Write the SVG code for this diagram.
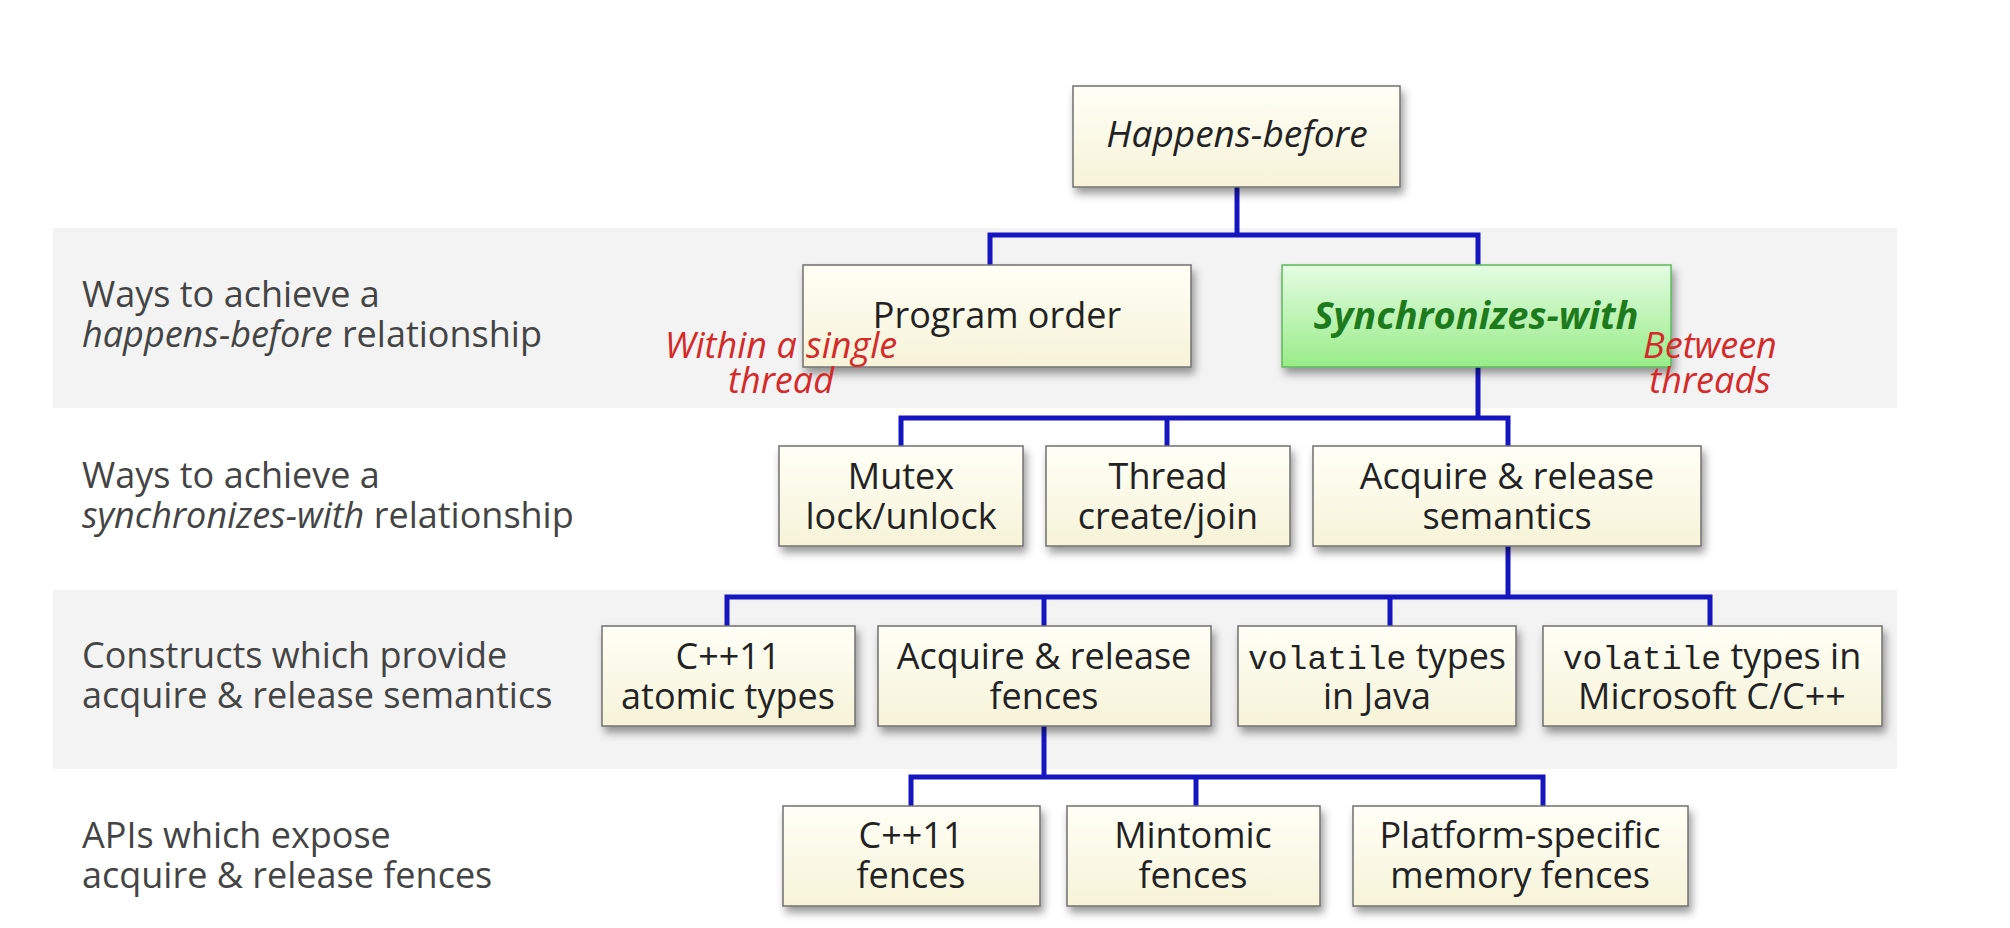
<svg xmlns="http://www.w3.org/2000/svg" width="2010" height="928" viewBox="0 0 2010 928">
<defs>
<linearGradient id="gy" x1="0" y1="0" x2="0" y2="1"><stop offset="0" stop-color="#fffff6"/><stop offset="1" stop-color="#f6f3d8"/></linearGradient>
<linearGradient id="gg" x1="0" y1="0" x2="0" y2="1"><stop offset="0" stop-color="#e4fce2"/><stop offset="1" stop-color="#98ec88"/></linearGradient>
<filter id="sh" x="-10%" y="-20%" width="130%" height="160%"><feDropShadow dx="3" dy="6" stdDeviation="4" flood-color="#000" flood-opacity="0.4"/></filter>
<style>
.band{fill:#f3f3f3}
.box{fill:url(#gy);stroke:#707070;stroke-width:1.5;filter:url(#sh)}
.gbox{fill:url(#gg);stroke:#5cb85c;stroke-width:1.5;filter:url(#sh)}
.t{font-family:"Open Sans","Noto Sans","DejaVu Sans",sans-serif;font-size:36px;fill:#222;text-anchor:middle}
.lab{font-family:"Open Sans","Noto Sans","DejaVu Sans",sans-serif;font-size:36px;fill:#444}
.mono{font-family:"Liberation Mono","DejaVu Sans Mono",monospace;font-size:33px}
.it{font-style:italic}
.hb{font-style:italic;font-size:37px}
.sw{font-weight:bold;font-style:italic;font-size:38px;fill:#1d7a1d}
.red{font-family:"Open Sans","Noto Sans","DejaVu Sans",sans-serif;font-size:36px;font-style:italic;fill:#d42a2a;text-anchor:middle}
.c{fill:none;stroke:#1616c0;stroke-width:5}
</style>
</defs>
<rect width="2010" height="928" fill="#ffffff"/>
<g id="bands">
<rect class="band" x="53" y="228" width="1844" height="180"/>
<rect class="band" x="53" y="590" width="1844" height="179"/>
</g>
<g id="row-labels">
<text class="lab" x="82" y="307">Ways to achieve a</text>
<text class="lab" x="82" y="347"><tspan class="it">happens-before</tspan> relationship</text>
<text class="lab" x="82" y="488">Ways to achieve a</text>
<text class="lab" x="82" y="528"><tspan class="it">synchronizes-with</tspan> relationship</text>
<text class="lab" x="82" y="668">Constructs which provide</text>
<text class="lab" x="82" y="708">acquire &amp; release semantics</text>
<text class="lab" x="82" y="848">APIs which expose</text>
<text class="lab" x="82" y="888">acquire &amp; release fences</text>
</g>
<g id="connectors">
<path class="c" d="M1237 187 V235"/>
<path class="c" d="M990 265 V235 H1478 V265"/>
<path class="c" d="M1478 367 V418"/>
<path class="c" d="M901 446 V418 H1508 V446"/>
<path class="c" d="M1167 418 V446"/>
<path class="c" d="M1508 546 V597"/>
<path class="c" d="M727 626 V597 H1710 V626"/>
<path class="c" d="M1044 597 V626"/>
<path class="c" d="M1390 597 V626"/>
<path class="c" d="M1044 726 V777"/>
<path class="c" d="M911 806 V777 H1543 V806"/>
<path class="c" d="M1196 777 V806"/>
</g>
<g id="happens-before"><rect class="box" x="1073" y="86" width="327" height="101"/><text class="t hb" x="1237" y="147">Happens-before</text></g>
<g id="program-order"><rect class="box" x="803" y="265" width="388" height="102"/><text class="t" x="997" y="328">Program order</text></g>
<g id="synchronizes-with"><rect class="gbox" x="1282" y="265" width="389" height="102"/><text class="t sw" x="1476" y="329">Synchronizes-with</text></g>
<g id="mutex"><rect class="box" x="779" y="446" width="244" height="100"/><text class="t" x="901" y="489">Mutex</text><text class="t" x="901" y="529">lock/unlock</text></g>
<g id="thread"><rect class="box" x="1046" y="446" width="244" height="100"/><text class="t" x="1168" y="489">Thread</text><text class="t" x="1168" y="529">create/join</text></g>
<g id="acq-rel-semantics"><rect class="box" x="1313" y="446" width="388" height="100"/><text class="t" x="1507" y="489">Acquire &amp; release</text><text class="t" x="1507" y="529">semantics</text></g>
<g id="cpp11-atomic"><rect class="box" x="602" y="626" width="253" height="100"/><text class="t" x="728" y="669">C++11</text><text class="t" x="728" y="709">atomic types</text></g>
<g id="acq-rel-fences"><rect class="box" x="878" y="626" width="333" height="100"/><text class="t" x="1044" y="669">Acquire &amp; release</text><text class="t" x="1044" y="709">fences</text></g>
<g id="volatile-java"><rect class="box" x="1238" y="626" width="278" height="100"/><text class="t" x="1377" y="669"><tspan class="mono">volatile</tspan> types</text><text class="t" x="1377" y="709">in Java</text></g>
<g id="volatile-ms"><rect class="box" x="1543" y="626" width="339" height="100"/><text class="t" x="1712" y="669"><tspan class="mono">volatile</tspan> types in</text><text class="t" x="1712" y="709">Microsoft C/C++</text></g>
<g id="cpp11-fences"><rect class="box" x="783" y="806" width="257" height="100"/><text class="t" x="911" y="848">C++11</text><text class="t" x="911" y="888">fences</text></g>
<g id="mintomic"><rect class="box" x="1067" y="806" width="253" height="100"/><text class="t" x="1193" y="848">Mintomic</text><text class="t" x="1193" y="888">fences</text></g>
<g id="platform-fences"><rect class="box" x="1353" y="806" width="335" height="100"/><text class="t" x="1520" y="848">Platform-specific</text><text class="t" x="1520" y="888">memory fences</text></g>
<g id="notes">
<text class="red" x="781" y="358">Within a single</text>
<text class="red" x="781" y="393">thread</text>
<text class="red" x="1710" y="358">Between</text>
<text class="red" x="1710" y="393">threads</text>
</g>
</svg>
